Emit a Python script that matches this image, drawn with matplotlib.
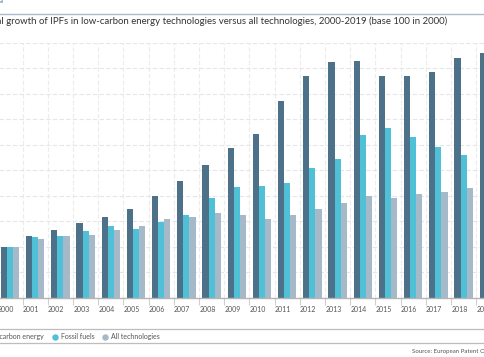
import matplotlib
matplotlib.use("Agg")
import matplotlib.pyplot as plt
from matplotlib.lines import Line2D
import numpy as np

plt.rcParams['font.family'] = ['Lato', 'DejaVu Sans']

years = [str(y) for y in range(2000, 2020)]
low_carbon = [100, 121, 133, 146, 159, 174, 200, 230, 261, 293, 321, 386, 435, 463, 465, 435, 435, 444, 470, 480]
fossil = [100, 119, 121, 130, 141, 134, 149, 163, 196, 217, 219, 226, 255, 272, 320, 333, 316, 296, 280, 262]
all_tech = [100, 115, 121, 124, 132, 140, 154, 158, 166, 162, 154, 162, 174, 185, 200, 196, 203, 208, 215, 222]
series_names = ["Low-carbon energy", "Fossil fuels", "All technologies"]
colors = ["#4d7189", "#4fc0d6", "#a6b9c9"]

W, H = 485, 357
fig = plt.figure(figsize=(W / 100, H / 100), dpi=100)

def fx(px):
    return px / W

def fy(py):
    return 1 - py / H

ax_left, ax_right, ax_top, ax_bot = -2.6, 501.4, 43.0, 297.7
ax = fig.add_axes([fx(ax_left), fy(ax_bot), (ax_right - ax_left) / W, (ax_bot - ax_top) / H])

x = np.arange(len(years))
bw = 0.242
for k, (vals, c) in enumerate(zip([low_carbon, fossil, all_tech], colors)):
    ax.bar(x + (k - 1) * bw, vals, width=bw, color=c, zorder=3, linewidth=0)

ax.set_xlim(-0.5, len(years) - 0.5)
ax.set_ylim(0, 500)
ax.set_yticks(np.arange(50, 501, 50))
ax.set_xticks(np.arange(len(years)) + 0.5)
ax.set_xticklabels([])
ax.tick_params(axis='x', length=5, color='#d0d0d0', width=0.8, direction='out')
ax.tick_params(axis='y', length=0, labelleft=False)
ax.grid(True, axis='y', color='#e6e6e6', linestyle=(0, (4, 2)), linewidth=0.8, zorder=0)
ax.grid(True, axis='x', color='#ececec', linestyle=(0, (4, 2)), linewidth=0.8, zorder=0)
for s in ['top', 'right', 'left']:
    ax.spines[s].set_visible(False)
ax.spines['bottom'].set_color('#b5b5b5')
ax.spines['bottom'].set_linewidth(1.0)
ax.spines['bottom'].set_zorder(4)

trans = ax.get_xaxis_transform()
for i, lab in enumerate(years):
    ax.text(i - 0.5 + 0.01, -0.046, lab, transform=trans, ha='left', va='center',
            fontsize=5.0, color='#555555', clip_on=False)

# header (chart is cropped at the left edge)
fig.text(fx(4), fy(3), "4a", ha='right', va='baseline', fontsize=6, color='#4d7189')
fig.add_artist(Line2D([0, 1], [fy(13.5), fy(13.5)], color='#a9bccc', linewidth=1.0))
fig.text(fx(447), fy(21.7), "Annual growth of IPFs in low-carbon energy technologies versus all technologies, 2000-2019 (base 100 in 2000)",
         ha='right', va='center', fontsize=6.9, color='#333333')
# legend
fig.add_artist(Line2D([0, 1], [fy(329.3), fy(329.3)], color='#bdbdbd', linewidth=0.9))
fig.add_artist(Line2D([0, 1], [fy(343.3), fy(343.3)], color='#bdbdbd', linewidth=0.9))
leg_y = 336.8
fig.text(fx(43.7), fy(leg_y), series_names[0], ha='right', va='center', fontsize=5.0, color='#555555')
fig.add_artist(Line2D([fx(-14)], [fy(leg_y)], marker='o', markersize=3.6, color=colors[0], linestyle='none'))
fig.add_artist(Line2D([fx(55)], [fy(leg_y)], marker='o', markersize=3.6, color=colors[1], linestyle='none'))
fig.text(fx(61), fy(leg_y), series_names[1], ha='left', va='center', fontsize=5.0, color='#555555')
fig.add_artist(Line2D([fx(105)], [fy(leg_y)], marker='o', markersize=3.6, color=colors[2], linestyle='none'))
fig.text(fx(111.5), fy(leg_y), series_names[2], ha='left', va='center', fontsize=5.0, color='#555555')
fig.text(fx(411.7), fy(351), "Source: European Patent Office", ha='left', va='center', fontsize=4.4, color='#555555')

fig.savefig("out.png", dpi=100)
